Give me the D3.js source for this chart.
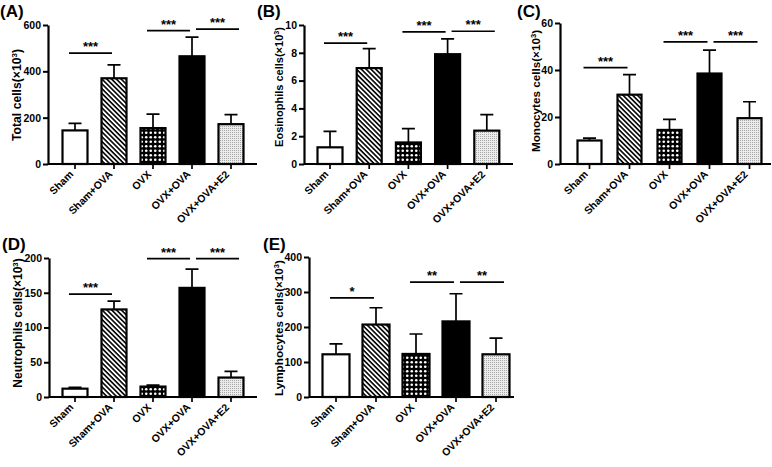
<!DOCTYPE html>
<html>
<head>
<meta charset="utf-8">
<script src="https://cdn.jsdelivr.net/npm/d3@7"></script>
<style>
  body { margin: 0; background: #fff; }
  svg { display: block; }
</style>
</head>
<body>
<div id="chart"></div>
<script>
'use strict'

// groups on every x axis
const groups = ["Sham", "Sham+OVA", "OVX", "OVX+OVA", "OVX+OVA+E2"]

// (A) total cells
const totalMean = [145, 370, 155, 465, 172]
const totalErr = [30, 58, 60, 83, 41]
const totalTicks = [0, 200, 400, 600]
const totalSig = [[0, 1, 479, "***"], [2, 3, 576, "***"], [3, 4, 582, "***"]]

// (B) eosinophils
const eosMean = [1.2, 6.9, 1.55, 7.9, 2.4]
const eosErr = [1.15, 1.4, 1.0, 1.1, 1.15]
const eosTicks = [0, 2, 4, 6, 8, 10]
const eosSig = [[0, 1, 8.7, "***"], [2, 3, 9.5, "***"], [3, 4, 9.55, "***"]]

// (C) monocytes
const monoMean = [10, 29.5, 14.5, 38.5, 19.5]
const monoErr = [1, 8.5, 4.5, 10, 7]
const monoTicks = [0, 20, 40, 60]
const monoSig = [[0, 1, 41, "***"], [2, 3, 52, "***"], [3, 4, 52, "***"]]

// (D) neutrophils
const neuMean = [12, 126, 15, 157, 28]
const neuErr = [2, 12, 2, 27, 9]
const neuTicks = [0, 50, 100, 150, 200]
const neuSig = [[0, 1, 148, "***"], [2, 3, 199, "***"], [3, 4, 199, "***"]]

// (E) lymphocytes
const lymMean = [122, 207, 123, 216, 122]
const lymErr = [30, 48, 57, 79, 46]
const lymTicks = [0, 100, 200, 300, 400]
const lymSig = [[0, 1, 283, "*"], [2, 3, 328, "**"], [3, 4, 328, "**"]]

////////////////////////////////////
//////////// svg setup /////////////
////////////////////////////////////

const svgWidth = 772
const svgHeight = 467
const font_family = 'Arial, "Liberation Sans", sans-serif'

const svg = d3.select('#chart')
    .append('svg')
    .attr('width', svgWidth)
    .attr('height', svgHeight)

const defs = svg.append('defs')

// diagonal stripes for Sham+OVA
const stripes = defs.append('pattern')
    .attr('id', 'stripes')
    .attr('patternUnits', 'userSpaceOnUse')
    .attr('width', 3.4).attr('height', 3.4)
    .attr('patternTransform', 'rotate(45)')
stripes.append('rect').attr('width', 3.4).attr('height', 3.4).attr('fill', '#fff')
stripes.append('rect').attr('width', 3.4).attr('height', 1.6).attr('fill', '#000')

// black with white dots for OVX
const checks = defs.append('pattern')
    .attr('id', 'checks')
    .attr('patternUnits', 'userSpaceOnUse')
    .attr('width', 9).attr('height', 9)
checks.append('rect').attr('width', 9).attr('height', 9).attr('fill', '#000')
checks.selectAll('circle')
    .data([[2.25, 2.25], [6.75, 6.75], [6.75, 2.25], [2.25, 6.75]])
    .join('circle')
    .attr('cx', d => d[0]).attr('cy', d => d[1])
    .attr('r', 1.3)
    .attr('fill', '#fff')

// fine grey dots for OVX+OVA+E2
const dots = defs.append('pattern')
    .attr('id', 'dots')
    .attr('patternUnits', 'userSpaceOnUse')
    .attr('width', 2).attr('height', 2)
dots.append('rect').attr('width', 2).attr('height', 2).attr('fill', '#ececec')
dots.append('rect').attr('width', 1).attr('height', 1).attr('fill', '#a8a8a8')

const groupFill = d3.scaleOrdinal()
    .domain(groups)
    .range(['#fff', 'url(#stripes)', 'url(#checks)', '#000', 'url(#dots)'])

////////////////////////////////////
//////////// panels ////////////////
////////////////////////////////////

const panels = [
    { letter: "(A)", lx: 0, ly: 17, title: "Total cells", tsize: 12.2, tx: 17, ty: 95,
      ax: 48, y0: 164, yTop: 25, xEnd: 257, c0: 75, step: 39, bw: 27,
      mean: totalMean, err: totalErr, ticks: totalTicks, sig: totalSig },
    { letter: "(B)", lx: 257, ly: 17, title: "Eosinophils cells", tsize: 11, tx: 279, ty: 87,
      ax: 304, y0: 164, yTop: 25, xEnd: 513, c0: 330, step: 39.2, bw: 27,
      mean: eosMean, err: eosErr, ticks: eosTicks, sig: eosSig },
    { letter: "(C)", lx: 517, ly: 17, title: "Monocytes cells", tsize: 11.7, tx: 536, ty: 91,
      ax: 560, y0: 164, yTop: 23, xEnd: 771, c0: 589.5, step: 40, bw: 26,
      mean: monoMean, err: monoErr, ticks: monoTicks, sig: monoSig },
    { letter: "(D)", lx: 2, ly: 250, title: "Neutrophils cells", tsize: 12, tx: 18, ty: 323,
      ax: 49, y0: 397, yTop: 258, xEnd: 257, c0: 75, step: 39, bw: 27,
      mean: neuMean, err: neuErr, ticks: neuTicks, sig: neuSig },
    { letter: "(E)", lx: 263, ly: 250, title: "Lymphocytes cells", tsize: 11.7, tx: 279, ty: 328,
      ax: 309, y0: 397, yTop: 257, xEnd: 514, c0: 336, step: 40, bw: 29,
      mean: lymMean, err: lymErr, ticks: lymTicks, sig: lymSig }
]

panels.forEach(p => drawPanel(p))

function drawPanel(p) {
    const g = svg.append('g')
    const n = groups.length
    const pad = 1 - p.bw / p.step

    const x = d3.scaleBand()
        .domain(groups)
        .range([p.c0 - p.step / 2, p.c0 - p.step / 2 + n * p.step])
        .paddingInner(pad)
        .paddingOuter(pad / 2)
    const y = d3.scaleLinear()
        .domain([0, d3.max(p.ticks)])
        .range([p.y0, p.yTop])
    const cx = i => x(groups[i]) + x.bandwidth() / 2

    // error bars (upper only)
    g.selectAll('.err')
        .data(groups)
        .join('path')
        .attr('class', 'err')
        .attr('fill', 'none')
        .attr('stroke', '#000')
        .attr('stroke-width', 1.7)
        .attr('d', (d, i) => {
            const c = cx(i), top = y(p.mean[i] + p.err[i])
            return `M${c},${y(p.mean[i])}V${top}M${c - 6.5},${top}H${c + 6.5}`
        })

    // bars
    g.selectAll('.bar')
        .data(groups)
        .join('rect')
        .attr('class', 'bar')
        .attr('x', d => x(d) + 1)
        .attr('width', x.bandwidth() - 2)
        .attr('y', (d, i) => y(p.mean[i]))
        .attr('height', (d, i) => p.y0 - y(p.mean[i]))
        .attr('fill', d => groupFill(d))
        .attr('stroke', '#000')
        .attr('stroke-width', 2.2)

    // y axis
    const yAxis = g.append('g')
        .attr('transform', `translate(${p.ax},0)`)
        .call(d3.axisLeft(y).tickValues(p.ticks).tickSize(5).tickPadding(2).tickSizeOuter(0))
    yAxis.select('.domain').attr('stroke-width', 2.2)
    yAxis.selectAll('.tick line').attr('stroke-width', 2)
    yAxis.selectAll('.tick text')
        .style('font-family', font_family)
        .style('font-weight', 'bold')
        .style('font-size', '10.5px')
        .attr('fill', '#000')

    // x axis
    const xAxis = g.append('g')
        .attr('transform', `translate(0,${p.y0})`)
        .call(d3.axisBottom(x).tickSize(5).tickSizeOuter(0))
    xAxis.select('.domain')
        .attr('d', `M${p.ax},0H${p.xEnd}`)
        .attr('stroke-width', 2.2)
    xAxis.selectAll('.tick line').attr('stroke-width', 1.7)
    xAxis.selectAll('.tick text')
        .style('font-family', font_family)
        .style('font-weight', 'bold')
        .style('font-size', '10.5px')
        .attr('fill', '#000')
        .attr('text-anchor', 'end')
        .attr('dy', null)
        .attr('y', 0)
        .attr('transform', 'translate(-1,11) rotate(-45)')

    // significance lines
    g.selectAll('.sig')
        .data(p.sig)
        .join('line')
        .attr('class', 'sig')
        .attr('stroke', '#000')
        .attr('stroke-width', 1.7)
        .attr('x1', d => d[0] === 3 ? cx(d[0]) + 4 : cx(d[0]) - 6)
        .attr('x2', d => d[0] === 3 ? cx(d[1]) + 8 : cx(d[1]) - 2)
        .attr('y1', d => y(d[2]))
        .attr('y2', d => y(d[2]))

    g.selectAll('.stars')
        .data(p.sig)
        .join('text')
        .attr('class', 'stars')
        .attr('x', d => d[0] === 3 ? (cx(d[0]) + cx(d[1])) / 2 + 6 : (cx(d[0]) + cx(d[1])) / 2 - 4)
        .attr('y', d => y(d[2]) - 2)
        .attr('text-anchor', 'middle')
        .style('font-family', font_family)
        .style('font-weight', 'bold')
        .style('font-size', '13px')
        .text(d => d[3])

    // axis title
    const title = g.append('text')
        .attr('transform', `translate(${p.tx + p.tsize * 0.36},${p.ty}) rotate(-90)`)
        .attr('text-anchor', 'middle')
        .style('font-family', font_family)
        .style('font-weight', 'bold')
        .style('font-size', p.tsize + 'px')
    title.append('tspan').text(p.title + '(×10')
    title.append('tspan').attr('baseline-shift', 'super').style('font-size', (p.tsize * 0.65) + 'px').text('3')
    title.append('tspan').text(')')

    // panel letter
    g.append('text')
        .attr('x', p.lx)
        .attr('y', p.ly)
        .style('font-family', font_family)
        .style('font-weight', 'bold')
        .style('font-size', '17px')
        .text(p.letter)
}
</script>
</body>
</html>
